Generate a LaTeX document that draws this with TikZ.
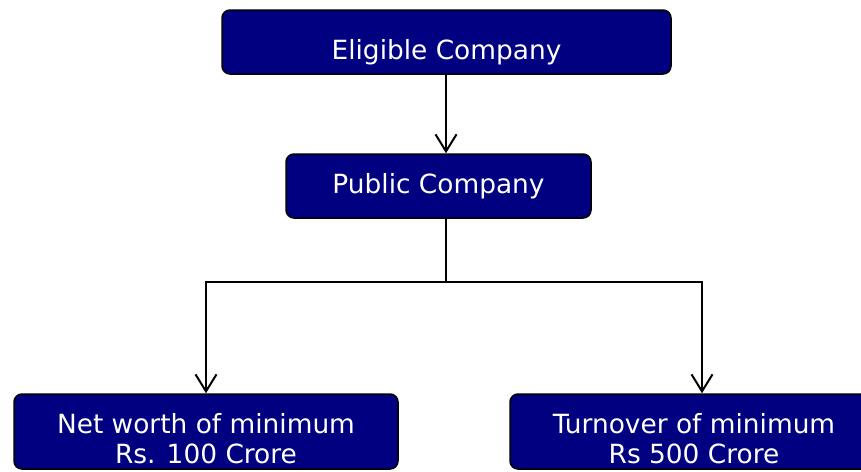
\documentclass[tikz,border=0pt]{standalone}
\usepackage{fontspec}
\setmainfont{DejaVu Sans}
\usetikzlibrary{arrows.meta}
\definecolor{boxnavy}{HTML}{000080}
\tikzset{
  box/.style={draw=black, line width=1.5pt, fill=boxnavy, rounded corners=8pt,
    text=white, inner sep=0pt, font=\fontsize{26.4}{30}\selectfont, align=center},
  conn/.style={draw=black, line width=2pt},
  arr/.style={conn, -{Straight Barb[length=17pt,width=21pt,line width=2pt]}}
}
\begin{document}
\begin{tikzpicture}[x=1pt,y=-1pt]
\useasboundingbox (0,0) rectangle (861,471);
\node[box, minimum width=449pt, minimum height=64pt, text height=40pt, text depth=6pt] (elig) at (446.5,42) {Eligible Company};
\node[box, minimum width=305pt, minimum height=64pt, text height=20pt, text depth=6pt] (pub) at (438.5,186) {Public Company};
\node[box, minimum width=384pt, minimum height=75pt] (nw) at (206,431.5) {\rule{0pt}{35pt}Net worth of minimum\\Rs. 100 Crore};
\node[box, minimum width=368pt, minimum height=75pt] (to) at (694,431.5) {\rule{0pt}{35pt}Turnover of minimum\\Rs 500 Crore};
\coordinate (split) at (446,282);
\coordinate (br) at (702,282);
\draw[arr] (elig.south -| split) -- (pub.north -| split);
\draw[conn] (pub.south -| split) -- (split);
\draw[arr] (split) -| (nw.north);
\draw[arr] (split) -| (br |- to.north);
\end{tikzpicture}
\end{document}
